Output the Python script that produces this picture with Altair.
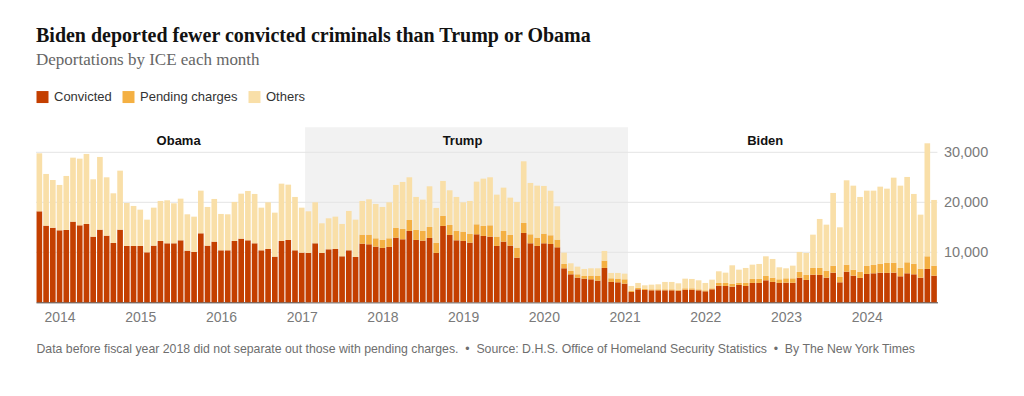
import altair as alt
import pandas as pd

# ---- data (monthly, starting October 2013 = fiscal year 2014) ----
first_month = "2013-10"
series = ["Convicted", "Pending charges", "Others"]
colors = ["#c43f00", "#f4b043", "#f9dfa8"]

convicted = [
    18200, 15330, 14930, 14400, 14470, 16130, 15400, 15670, 13130, 14530, 13330, 11870,
    14530, 11270, 11270, 11270, 10000, 11330, 12270, 11800, 11800, 12400, 10330, 10070,
    13800, 11330, 12130, 10400, 10400, 12270, 12730, 12400, 11800, 10400, 10670, 9130,
    12270, 12470, 10400, 9930, 9870, 11800, 9870, 10600, 10670, 9200, 10400, 9070,
    11730, 11600, 11130, 10870, 11070, 12930, 12600, 14270, 12470, 12330, 12870, 9870,
    15270, 13470, 12400, 12270, 11930, 13600, 13270, 13130, 11270, 12130, 11330, 8930,
    13870, 11800, 11270, 11800, 11670, 11000, 6800, 5600, 4930, 4730, 4600, 4330,
    6870, 4070, 4000, 3730, 2070, 2600, 2470, 2400, 2400, 2400, 2400, 2330,
    2530, 2530, 2400, 2200, 2600, 3330, 3270, 3130, 3470, 3270, 3870, 3870,
    4400, 4070, 3870, 3930, 3900, 4930, 4470, 5530, 5470, 4930, 5930, 4000,
    6130, 5330, 4870, 5670, 5800, 5930, 5870, 5930, 5200, 5800, 5600, 4930,
    6670, 5330,
]

pending = [0] * 48 + [
    1800, 1930, 1670, 1600, 1730, 1940, 2070, 2200, 2000, 1940, 2200, 2000,
    2000, 2000, 1870, 1860, 1740, 2000, 2000, 2270, 1860, 2140, 2140, 2000,
    2000, 1800, 1660, 1930, 1730, 1530, 870, 670, 670, 540, 730, 1000,
    1460, 730, 730, 870, 260, 330, 200, 200, 200, 200, 200, 200,
    270, 270, 200, 200, 200, 540, 600, 540, 460, 660, 800, 800,
    870, 860, 730, 870, 900, 1140, 1000, 1340, 1400, 1340, 1400, 1070,
    1400, 1200, 1260, 1600, 1670, 1800, 2000, 2000, 1670, 2200, 2130, 1800,
    2530, 2000,
]

total = [
    29800, 25670, 24470, 23470, 25270, 28930, 28730, 29670, 24600, 29070, 25000, 21800,
    26330, 19870, 19270, 18530, 16530, 18930, 20270, 20400, 19800, 20730, 17600, 17130,
    22330, 19070, 20670, 17670, 17600, 20070, 21730, 22270, 21670, 18930, 20000, 17930,
    23730, 23530, 21070, 18930, 18200, 20000, 15800, 16800, 17130, 15670, 18270, 16530,
    20270, 20600, 19670, 19070, 20000, 23470, 24070, 25000, 21070, 20530, 23200, 18870,
    24270, 22400, 21070, 20000, 20270, 24130, 24730, 25000, 21530, 22930, 20930, 20070,
    28200, 23870, 23330, 23270, 22330, 19200, 9930, 7800, 7130, 6670, 6800, 6800,
    10270, 5870, 5870, 5730, 3270, 3870, 3400, 3530, 3600, 4070, 4070, 3800,
    4730, 4670, 4400, 3870, 4530, 6200, 5930, 7400, 6530, 6870, 7530, 7670,
    9200, 8670, 7000, 6800, 7330, 10070, 9870, 13530, 16670, 15530, 21870, 15000,
    24400, 23330, 21070, 22330, 22330, 23130, 22730, 24930, 23330, 25070, 21670, 17530,
    31800, 20470,
]

year_labels = list(range(2014, 2025))
grid_values = [10000, 20000, 30000]
periods = ["Obama", "Trump", "Biden"]
period_label_month = [21.2, 63.4, 108.4]
trump_months = [40, 88]  # Feb 2017 through Jan 2021

title_text = "Biden deported fewer convicted criminals than Trump or Obama"
subtitle_text = "Deportations by ICE each month"
SEP = "\u00a0\u00a0•\u00a0\u00a0"
footer_text = ("Data before fiscal year 2018 did not separate out those with pending charges." + SEP +
               "Source: D.H.S. Office of Homeland Security Statistics" + SEP + "By The New York Times")

# ---- tables ----
n = len(total)
rows = []
for i in range(n):
    c, p, t = convicted[i], pending[i], total[i]
    for name, lo, hi in [("Convicted", 0, c), ("Pending charges", c, c + p), ("Others", c + p, t)]:
        if hi > lo:
            rows.append({"m": i, "x0": i + 0.08, "x1": i + 0.92, "series": name, "y0": lo, "y1": hi})
bars_df = pd.DataFrame(rows)

shade_df = pd.DataFrame({"x0": [trump_months[0]], "x1": [trump_months[1]], "y0": [0], "y1": [35000]})
grid_df = pd.DataFrame({"v": grid_values})
label_df = pd.DataFrame({"name": periods, "m": period_label_month, "y": [32300] * 3})

W = 134 * 6.727
H = 175
SANS = "Liberation Sans"

xscale = alt.Scale(domain=[0, n], nice=False, zero=False)
yscale = alt.Scale(domain=[0, 35000], nice=False)

first_jan = 3  # January 2014 is the 4th month
xaxis = alt.Axis(
    values=[first_jan + 0.5 + 12 * (y - year_labels[0]) for y in year_labels],
    labelExpr=f"{year_labels[0]} + round((datum.value - {first_jan + 0.5}) / 12)",
    ticks=False, grid=False, domain=True, domainColor="#333333", domainWidth=1,
    labelFont=SANS, labelFontSize=14, labelColor="#7a7a7a", labelPadding=8,
    labelFlush=False, labelOverlap=False,
    title=footer_text, titleFont=SANS, titleFontSize=12.3, titleFontWeight="normal",
    titleColor="#6e6e6e", titleAnchor="start", titleAlign="left", titleBaseline="alphabetic",
    titleX=0, titleY=50,
)
yaxis = alt.Axis(
    orient="right", values=grid_values, format=",.0f", grid=False, domain=False, ticks=False,
    labelFont=SANS, labelFontSize=14.5, labelColor="#7a7a7a", labelPadding=6, title=None,
)

shade = alt.Chart(shade_df).mark_rect(color="#f2f2f2").encode(
    x=alt.X("x0:Q", scale=xscale, axis=xaxis),
    x2="x1:Q",
    y=alt.Y("y0:Q", scale=yscale, axis=yaxis),
    y2="y1:Q",
)

grid = alt.Chart(grid_df).mark_rule(color="#e4e4e4", strokeWidth=1).encode(
    y=alt.Y("v:Q", scale=yscale),
)

bars = alt.Chart(bars_df).mark_bar().encode(
    x=alt.X("x0:Q", scale=xscale),
    x2="x1:Q",
    y=alt.Y("y0:Q", scale=yscale),
    y2="y1:Q",
    color=alt.Color(
        "series:N",
        scale=alt.Scale(domain=series, range=colors),
        legend=alt.Legend(
            title=None, orient="none", legendX=0, legendY=-37, direction="horizontal",
            symbolType="square", symbolSize=144, symbolStrokeWidth=0, symbolOpacity=1,
            labelFont=SANS, labelFontSize=13, labelColor="#333333", labelOffset=5,
            columnPadding=10,
        ),
    ),
)

labels = alt.Chart(label_df).mark_text(
    font=SANS, fontSize=13, fontWeight="bold", color="#121212", align="center", baseline="middle"
).encode(
    x=alt.X("m:Q", scale=xscale),
    y=alt.Y("y:Q", scale=yscale),
    text="name:N",
)

chart = alt.layer(shade, grid, bars, labels).properties(
    width=W,
    height=H,
    background="white",
    title=alt.TitleParams(
        text=title_text, subtitle=subtitle_text, anchor="start", frame="group",
        font="Liberation Serif", fontSize=20, fontWeight="bold", color="#121212",
        subtitleFont="Liberation Serif", subtitleFontSize=17, subtitleColor="#666666",
        subtitlePadding=6, offset=22,
    ),
    autosize=alt.AutoSizeParams(type="none"),
    padding={"left": 28, "top": 119.3, "right": 70, "bottom": 70},
).configure_view(strokeWidth=0)

chart.save("out.html", embed_options={"renderer": "svg", "actions": False})
